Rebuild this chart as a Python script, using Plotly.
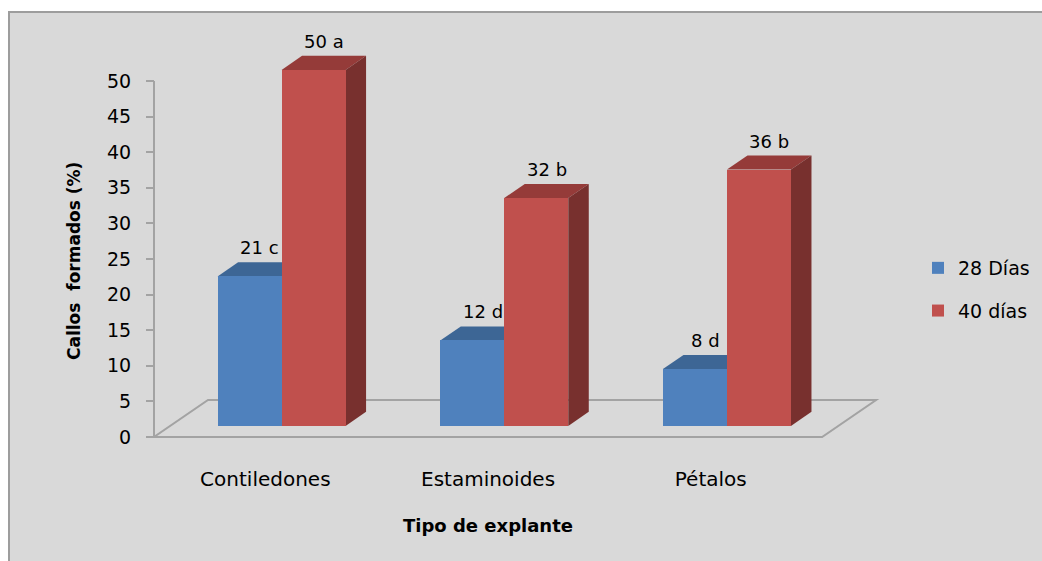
import plotly.graph_objects as go

# ---- data -------------------------------------------------------------
categories = ["Contiledones", "Estaminoides", "Pétalos"]
dias_28 = [21, 12, 8]
dias_40 = [50, 32, 36]
letras_28 = ["c", "d", "d"]
letras_40 = ["a", "b", "b"]
series_names = ["28 Días", "40 días"]
y_ticks = list(range(0, 55, 5))

# ---- look / geometry (axis units) -------------------------------------
FONT = "DejaVu Sans"
FRONT = ["#4f81bd", "#c0504d"]
TOP = ["#3d6695", "#953b39"]
SIDE = ["#2f5078", "#78302e"]
BG = "#d9d9d9"
GRID = "#a3a3a3"

W, H = 1042, 561
L, R, T, B = 140, 880, 20, 445          # plot area in pixels
PX_CAT, PX_UNIT = 222.7, 7.12           # pixels per category / per value unit
x_lo = -0.5 - (154 - L) / PX_CAT
x_hi = x_lo + (R - L) / PX_CAT
y_lo = -(B - 437) / PX_UNIT
y_hi = (437 - T) / PX_UNIT

bar_w = 64 / PX_CAT
floor_dx, floor_dy = 54 / PX_CAT, 37 / PX_UNIT     # depth of the floor
d_front, d_back = 0.30, 0.68                       # bar depth inside the floor
fdx, fdy = floor_dx * d_front, floor_dy * d_front
tdx, tdy = floor_dx * (d_back - d_front), floor_dy * (d_back - d_front)


def px_x(p):
    return (p - L) / (R - L)


def px_y(p):
    return (B - p) / (B - T)


fig = go.Figure()
shapes = []
annotations = []

# chart area background and border
shapes.append(dict(type="rect", xref="paper", yref="paper",
                   x0=px_x(9), x1=px_x(1060), y0=px_y(580), y1=px_y(12),
                   line=dict(color="#9d9d9d", width=2), fillcolor=BG, layer="below"))

# floor outline
n = len(categories)
fl = [(-0.5, 0), (n - 0.5, 0), (n - 0.5 + floor_dx, floor_dy), (-0.5 + floor_dx, floor_dy)]
shapes.append(dict(type="path", xref="x", yref="y", layer="below",
                   path="M" + " L".join(f"{a},{b}" for a, b in fl) + " Z",
                   line=dict(color=GRID, width=2), fillcolor="rgba(0,0,0,0)"))
# value axis line
shapes.append(dict(type="line", xref="x", yref="y", layer="below",
                   x0=-0.5, x1=-0.5, y0=0, y1=max(y_ticks),
                   line=dict(color=GRID, width=2)))

for s, (vals, letters) in enumerate([(dias_28, letras_28), (dias_40, letras_40)]):
    xs = [i + (s - 0.5) * bar_w + fdx for i in range(n)]
    fig.add_trace(go.Bar(
        x=xs, y=vals, base=[fdy] * n, width=bar_w, name=series_names[s],
        legendgroup=series_names[s],
        marker=dict(color=FRONT[s], line=dict(width=0)), hoverinfo="skip"))
    for xc, v, let in zip(xs, vals, letters):
        xl, xr = xc - bar_w / 2, xc + bar_w / 2
        yt = fdy + v
        top = [(xl, yt), (xr, yt), (xr + tdx, yt + tdy), (xl + tdx, yt + tdy)]
        side = [(xr, fdy), (xr + tdx, fdy + tdy), (xr + tdx, yt + tdy), (xr, yt)]
        for poly, col in ((top, TOP[s]), (side, SIDE[s])):
            shapes.append(dict(type="path", xref="x", yref="y", layer="below",
                               path="M" + " L".join(f"{a},{b}" for a, b in poly) + " Z",
                               line=dict(width=0), fillcolor=col))
        annotations.append(dict(x=xc + tdx / 2, y=yt + tdy, xref="x", yref="y",
                                text=f"{v} {let}", showarrow=False,
                                yanchor="bottom", yshift=2,
                                font=dict(family=FONT, size=18, color="#000")))

# axis titles
annotations.append(dict(x=1, xref="x", y=px_y(525), yref="paper", yanchor="middle",
                        text="<b>Tipo de explante</b>", showarrow=False,
                        font=dict(family=FONT, size=18, color="#000")))
annotations.append(dict(x=px_x(74), xref="paper", y=px_y(261), yref="paper",
                        xanchor="center", yanchor="middle", textangle=-90,
                        text="<b>Callos \u00a0formados (%)</b>", showarrow=False,
                        font=dict(family=FONT, size=17, color="#000")))

fig.update_layout(
    width=W, height=H,
    margin=dict(l=L, r=W - R, t=T, b=H - B, autoexpand=False),
    paper_bgcolor="white", plot_bgcolor="rgba(0,0,0,0)",
    barmode="overlay", bargap=0,
    font=dict(family=FONT, size=18, color="#000"),
    shapes=shapes, annotations=annotations,
    showlegend=True,
    legend=dict(x=px_x(918), y=px_y(249), xanchor="left", yanchor="top",
                bgcolor="rgba(0,0,0,0)", tracegroupgap=15,
                font=dict(family=FONT, size=19, color="#000")),
    xaxis=dict(range=[x_lo, x_hi], tickvals=list(range(n)), ticktext=categories,
               showgrid=False, zeroline=False, showline=False, ticks="",
               ticklabelstandoff=20, tickfont=dict(family=FONT, size=20, color="#000")),
    yaxis=dict(range=[y_lo, y_hi], tickvals=y_ticks, showgrid=False, zeroline=False,
               showline=False, ticks="outside", ticklen=8, tickwidth=2, tickcolor=GRID,
               anchor="free", position=px_x(154), ticklabelstandoff=11,
               tickfont=dict(family=FONT, size=19, color="#000")),
)

fig.write_html("out.html")
